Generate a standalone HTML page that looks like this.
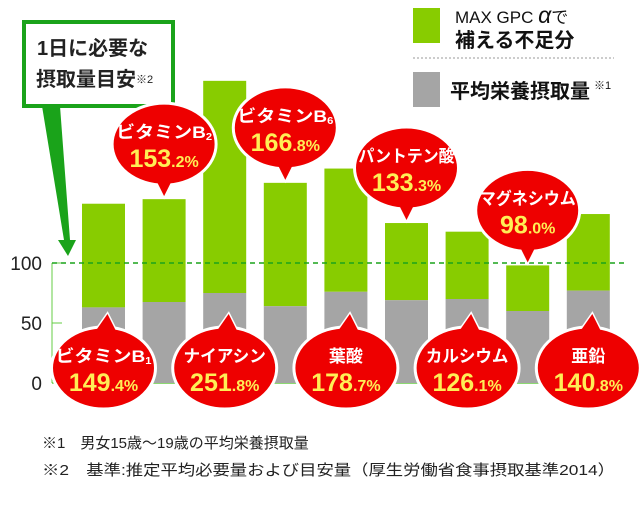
<!DOCTYPE html>
<html><head><meta charset="utf-8"><style>
html,body{margin:0;padding:0;background:#fff;}
svg{display:block;font-family:"Liberation Sans","Noto Sans CJK JP",sans-serif;}
</style></head><body>
<svg id="chart" width="640" height="511" viewBox="0 0 640 511" xmlns="http://www.w3.org/2000/svg">
<g>
  <rect x="413" y="8" width="27" height="35" fill="#88cc00"/>
  <text x="455" y="23" font-size="17" fill="#111">MAX GPC <tspan font-size="23" font-style="italic">α</tspan>で</text>
  <text x="455" y="47" font-size="20" font-weight="bold" fill="#111">補える不足分</text>
  <line x1="413" y1="58" x2="614" y2="58" stroke="#999" stroke-dasharray="2,2"/>
  <rect x="413" y="72" width="27" height="35" fill="#a5a5a5"/>
  <text x="450" y="98" font-size="20" font-weight="bold" fill="#111">平均栄養摂取量<tspan font-size="11" font-weight="normal" dx="4" dy="-9">※1</tspan></text>
</g>
<g>
  <polygon points="42,106 60,106 70,240 76,240 68,256 58,240 64,240" fill="#1aa31a"/>
  <rect x="24" y="22" width="149" height="84" fill="#fff" stroke="#1aa31a" stroke-width="4"/>
  <text x="37" y="55" font-size="20" font-weight="bold" fill="#222">1日に必要な</text>
  <text x="36" y="86" font-size="20" font-weight="bold" fill="#222">摂取量目安<tspan font-size="11" font-weight="normal" dy="-3">※2</tspan></text>
</g>
<g id="axes"></g>
<g id="bars"></g>
<line id="refline" x1="52" x2="625" stroke="#1aa31a" stroke-width="1.5" stroke-dasharray="5,4"/>
<g id="bubbles"></g>
<g>
  <text x="42" y="448" font-size="15" fill="#222">※1　男女15歳～19歳の平均栄養摂取量</text>
  <text x="42" y="475" font-size="15" fill="#222" textLength="573" lengthAdjust="spacingAndGlyphs">※2　基準:推定平均必要量および目安量（厚生労働省食事摂取基準2014）</text>
</g>
</svg>
<script>
const categories = ["ビタミンB","ビタミンB","ナイアシン","ビタミンB","葉酸","パントテン酸","カルシウム","マグネシウム","亜鉛"];
const subs = ["1","2","","6","","","","",""];
const totals = [149.4,153.2,251.8,166.8,178.7,133.3,126.1,98.0,140.8];
const intake = [63,67.5,75,64,76,69,70,60,77];
const yTicks = [0,50,100];

const NS="http://www.w3.org/2000/svg";
const Y0=383, PX=1.2;
const y = v => Y0 - v*PX;
const xStart=82, pitch=60.6, bw=43;
const x = i => xStart + i*pitch;
function mk(tag, attrs, parent){const e=document.createElementNS(NS,tag);for(const k in attrs)e.setAttribute(k,attrs[k]);parent.appendChild(e);return e;}

const axes=document.getElementById('axes');
const ax=mk('line',{x1:52,y1:y(100),x2:52,y2:Y0,stroke:'#66cc44','stroke-width':1},axes);


const bx=mk('line',{x1:52,y1:Y0,x2:625,y2:Y0,stroke:'#66cc44','stroke-width':1.5},axes);


yTicks.forEach(t=>{
  const tk=mk('line',{x1:52,y1:y(t),x2:62,y2:y(t),stroke:'#66cc44'},axes);
  
  
  const tl=mk('text',{x:42,y:y(t)+7,'font-size':19,'text-anchor':'end',fill:'#222'},axes);
  
  
  tl.textContent=t;
});
const rl=document.getElementById('refline');
rl.setAttribute('y1',y(100));rl.setAttribute('y2',y(100));

const bars=document.getElementById('bars');
const bub=document.getElementById('bubbles');
categories.forEach((c,i)=>{
  const g=mk('rect',{x:x(i),y:y(totals[i]),width:bw,height:(totals[i]-intake[i])*PX,fill:'#88cc00'},bars);
  
  
  const r=mk('rect',{x:x(i),y:y(intake[i]),width:bw,height:intake[i]*PX,fill:'#a5a5a5'},bars);
  
  

  const cx=x(i)+bw/2;
  const top=(i%2===1);
  let cy, tipY, tail;
  if(top){ tipY=y(totals[i])-3; cy=tipY-52; tail=`${cx-9},${cy+34} ${cx},${tipY} ${cx+9},${cy+34}`; }
  else { tipY=314; cy=368; tail=`${cx-10},${cy-34} ${cx+4},${tipY} ${cx+14},${cy-34}`; }
  const grp=mk('g',{},bub);
  
  
  mk('polygon',{points:tail,fill:'#ee0000',stroke:'#fff','stroke-width':3},grp);
  mk('ellipse',{cx:cx,cy:cy,rx:52,ry:41,fill:'#ee0000',stroke:'#fff','stroke-width':3},grp);
  mk('polygon',{points:tail,fill:'#ee0000'},grp);
  const full=c+subs[i];
  const n=mk('text',{x:cx,y:cy-6,'font-size':17,'font-weight':'bold','text-anchor':'middle',fill:'#fff'},grp);
  
  
  if(full.length>=5){n.setAttribute('textLength', Math.min(96, full.length*16.5));n.setAttribute('lengthAdjust','spacingAndGlyphs');}
  n.textContent=c;
  if(subs[i]){const s=mk('tspan',{'font-size':10,dy:2},n);s.textContent=subs[i];}
  const v=mk('text',{x:cx,y:cy+23,'font-size':25,'font-weight':'bold','text-anchor':'middle',fill:'#ffee55'},grp);
  
  
  const parts=totals[i].toFixed(1).split('.');
  v.textContent=parts[0];
  const d=mk('tspan',{'font-size':16},v);d.textContent='.'+parts[1]+'%';
});
</script>
</body></html>
